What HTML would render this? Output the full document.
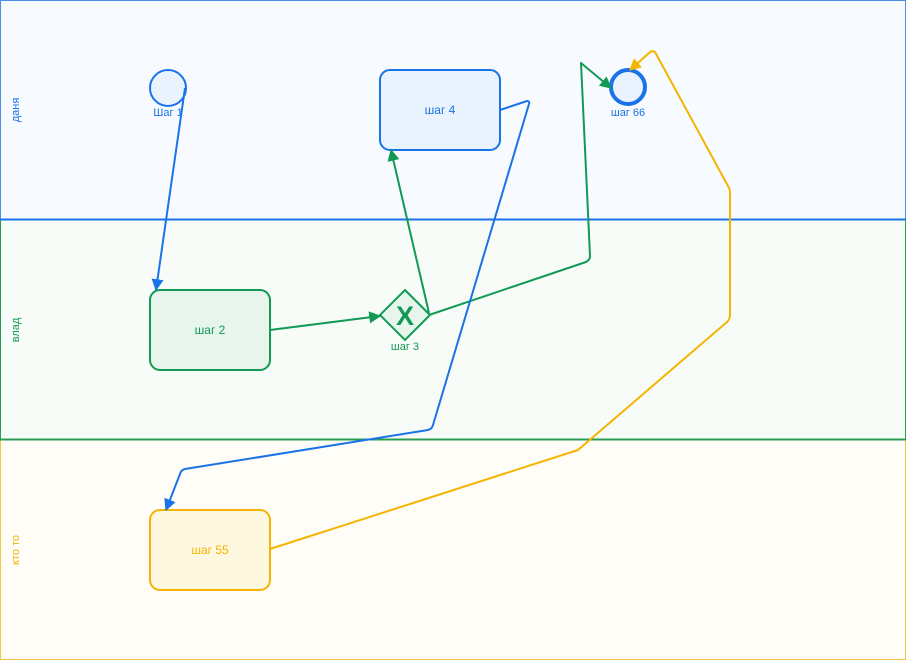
<!DOCTYPE html>
<html><head><meta charset="utf-8"><style>body{margin:0;width:906px;height:660px;overflow:hidden;background:#fff}svg{display:block;font-family:"Liberation Sans","DejaVu Sans",sans-serif}</style></head><body>
<svg width="906" height="660" viewBox="0 0 906 660">
<defs>
<marker id="ab" viewBox="0 0 10 10" refX="9" refY="5" markerWidth="6" markerHeight="6" orient="auto"><path d="M0,0L10,5L0,10z" fill="#1a73e8"/></marker>
<marker id="ag" viewBox="0 0 10 10" refX="9" refY="5" markerWidth="6" markerHeight="6" orient="auto"><path d="M0,0L10,5L0,10z" fill="#129954"/></marker>
<marker id="ay" viewBox="0 0 10 10" refX="9" refY="5" markerWidth="6" markerHeight="6" orient="auto"><path d="M0,0L10,5L0,10z" fill="#f4b400"/></marker>
</defs>
<rect x="0.5" y="0.5" width="905" height="219" fill="#f7fbff" stroke="#4a90e2" stroke-width="1"/>
<rect x="0.5" y="220" width="905" height="220" fill="#f8fcf9" stroke="#2a9d55" stroke-width="1"/>
<rect x="0.5" y="440" width="905" height="219.5" fill="#fffdf7" stroke="#f4c542" stroke-width="1"/>
<line x1="0" y1="219.5" x2="906" y2="219.5" stroke="#1a73e8" stroke-width="2"/>
<line x1="0" y1="439.5" x2="906" y2="439.5" stroke="#2a9d55" stroke-width="2"/>
<text transform="translate(19,110) rotate(-90)" text-anchor="middle" font-size="11" fill="#1a73e8">даня</text>
<text transform="translate(19,330) rotate(-90)" text-anchor="middle" font-size="11" fill="#129954">влад</text>
<text transform="translate(19,550) rotate(-90)" text-anchor="middle" font-size="11" fill="#f4b400">кто то</text>

<circle cx="168" cy="88" r="18" fill="#e8f3fe" stroke="#1a73e8" stroke-width="2"/>
<text x="168" y="116" text-anchor="middle" font-size="11" fill="#1a73e8">Шаг 1</text>
<rect x="380" y="70" width="120" height="80" rx="10" fill="#e8f3fe" stroke="#1a73e8" stroke-width="2"/>
<text x="440" y="114" text-anchor="middle" font-size="12" fill="#1a73e8">шаг 4</text>
<circle cx="628" cy="87" r="17" fill="#e8f3fe" stroke="#1a73e8" stroke-width="4"/>
<text x="628" y="116" text-anchor="middle" font-size="11" fill="#1a73e8">шаг 66</text>
<rect x="150" y="290" width="120" height="80" rx="10" fill="#e8f5ec" stroke="#129954" stroke-width="2"/>
<text x="210" y="334" text-anchor="middle" font-size="12" fill="#129954">шаг 2</text>
<path d="M405,290L430,315L405,340L380,315z" fill="#e8f5ec" stroke="#129954" stroke-width="2"/>
<text x="405" y="325" text-anchor="middle" font-size="27" font-weight="bold" fill="#129954">X</text>
<text x="405" y="350" text-anchor="middle" font-size="11" fill="#129954">шаг 3</text>
<rect x="150" y="510" width="120" height="80" rx="10" fill="#fff8e1" stroke="#f4b400" stroke-width="2"/>
<text x="210" y="554" text-anchor="middle" font-size="12" fill="#f4b400">шаг 55</text>

<g fill="none" stroke-width="2" stroke-linejoin="round">
<path d="M185,88L156,290" stroke="#1a73e8" marker-end="url(#ab)"/>
<path d="M270,330L380,316" stroke="#129954" marker-end="url(#ag)"/>
<path d="M429,313L391,150" stroke="#129954" marker-end="url(#ag)"/>
<path d="M429,315L586,262Q590,260 590,256L581,63L611,88" stroke="#129954" marker-end="url(#ag)"/>
<path d="M500,110L527,101Q530,101 529,104L433,425Q432,429 428,430L185,469Q181,470 180,474L166,510" stroke="#1a73e8" marker-end="url(#ab)"/>
<path d="M270,549L578,450L727,322Q730,319 730,315L730,193Q730,189 728,186L655,52Q652,50 649,53L630,70" stroke="#f4b400" marker-end="url(#ay)"/>
</g>
</svg></body></html>
